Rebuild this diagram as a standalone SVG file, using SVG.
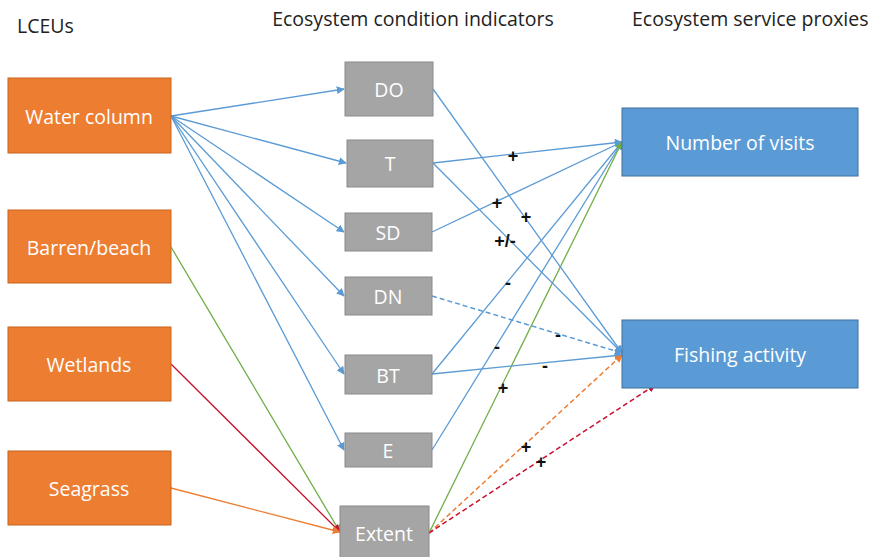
<svg xmlns="http://www.w3.org/2000/svg" width="871" height="557" viewBox="0 0 871 557">
  <defs>
    <marker id="ah-blue" viewBox="0 0 10 10" refX="9" refY="5" markerWidth="8" markerHeight="8" markerUnits="userSpaceOnUse" orient="auto">
      <path d="M0,0 L10,5 L0,10 z" fill="#5B9BD5"/>
    </marker>
    <marker id="ah-green" viewBox="0 0 10 10" refX="9" refY="5" markerWidth="8" markerHeight="8" markerUnits="userSpaceOnUse" orient="auto">
      <path d="M0,0 L10,5 L0,10 z" fill="#70AD47"/>
    </marker>
    <marker id="ah-orange" viewBox="0 0 10 10" refX="9" refY="5" markerWidth="8" markerHeight="8" markerUnits="userSpaceOnUse" orient="auto">
      <path d="M0,0 L10,5 L0,10 z" fill="#ED7D31"/>
    </marker>
    <marker id="ah-red" viewBox="0 0 10 10" refX="9" refY="5" markerWidth="8" markerHeight="8" markerUnits="userSpaceOnUse" orient="auto">
      <path d="M0,0 L10,5 L0,10 z" fill="#C8102E"/>
    </marker>
  </defs>
  <style>
    text { font-family: "Open Sans", "Liberation Sans", sans-serif; }
    .hdr { font-size: 19.5px; fill: #222; }
    .lbl { font-size: 19.5px; fill: #FFFFFF; text-anchor: middle; dominant-baseline: central; }
    .lceu rect { fill: #ED7D31; stroke: #C8651E; stroke-width: 1; }
    .ind rect { fill: #A5A5A5; stroke: #8A8A8A; stroke-width: 1; }
    .esp rect { fill: #5B9BD5; stroke: #41719C; stroke-width: 1; }
    .e { fill: none; stroke-width: 1.3; }
    .blue { stroke: #5B9BD5; marker-end: url(#ah-blue); }
    .green { stroke: #70AD47; marker-end: url(#ah-green); }
    .orange { stroke: #ED7D31; marker-end: url(#ah-orange); }
    .red { stroke: #C8102E; marker-end: url(#ah-red); }
    .dash { stroke-dasharray: 5 3; stroke-width: 1.5; }
    .sign { font-family: "Liberation Sans", sans-serif; font-size: 18px; fill: #111; text-anchor: middle; dominant-baseline: central; font-weight: bold; }
  </style>

  <rect width="871" height="557" fill="#FFFFFF"/>

  <!-- column headings -->
  <text class="hdr" x="17" y="33">LCEUs</text>
  <text class="hdr" x="413" y="26" text-anchor="middle">Ecosystem condition indicators</text>
  <text class="hdr" x="632" y="26">Ecosystem service proxies</text>

  <!-- connectors -->
  <g id="connectors">
    <!-- water column to indicators -->
    <line class="e blue" x1="171" y1="116" x2="344" y2="89"/>
    <line class="e blue" x1="171" y1="116" x2="346" y2="163"/>
    <line class="e blue" x1="171" y1="116" x2="344" y2="232"/>
    <line class="e blue" x1="171" y1="116" x2="344" y2="296"/>
    <line class="e blue" x1="171" y1="116" x2="344" y2="374"/>
    <line class="e blue" x1="171" y1="116" x2="344" y2="450"/>
    <!-- other LCEUs to extent -->
    <line class="e green" x1="171" y1="247" x2="340" y2="532"/>
    <line class="e red" x1="171" y1="364" x2="340" y2="532"/>
    <line class="e orange" x1="171" y1="488" x2="340" y2="532"/>
    <!-- indicators to number of visits -->
    <line class="e blue" x1="433" y1="163" x2="622" y2="142"/>
    <line class="e blue" x1="432" y1="232" x2="622" y2="142"/>
    <line class="e blue" x1="432" y1="374" x2="622" y2="142"/>
    <line class="e blue" x1="432" y1="450" x2="622" y2="142"/>
    <line class="e green" x1="429" y1="533" x2="622" y2="142"/>
    <!-- indicators to fishing activity -->
    <line class="e blue" x1="433" y1="89" x2="622" y2="353"/>
    <line class="e blue" x1="433" y1="163" x2="622" y2="353"/>
    <line class="e blue dash" x1="432" y1="296" x2="622" y2="353"/>
    <line class="e blue" x1="432" y1="374" x2="622" y2="355"/>
    <line class="e orange dash" x1="429" y1="533" x2="622" y2="355"/>
    <line class="e red dash" x1="429" y1="533" x2="655" y2="385"/>
  </g>

  <!-- relationship signs -->
  <g id="signs">
    <text class="sign" x="513" y="156">+</text>
    <text class="sign" x="497" y="203">+</text>
    <text class="sign" x="526" y="217">+</text>
    <text class="sign" x="505" y="241">+/-</text>
    <text class="sign" x="508" y="283">-</text>
    <text class="sign" x="558" y="335">-</text>
    <text class="sign" x="497" y="347">-</text>
    <text class="sign" x="545" y="366">-</text>
    <text class="sign" x="503" y="388">+</text>
    <text class="sign" x="526" y="447">+</text>
    <text class="sign" x="541" y="462">+</text>
  </g>

  <!-- land cover ecosystem units -->
  <g id="water-column" class="lceu"><rect x="8" y="78" width="163" height="75"/><text class="lbl" x="89" y="116">Water column</text></g>
  <g id="barren-beach" class="lceu"><rect x="8" y="210" width="163" height="73"/><text class="lbl" x="89" y="247">Barren/beach</text></g>
  <g id="wetlands" class="lceu"><rect x="8" y="327" width="163" height="74"/><text class="lbl" x="89" y="364">Wetlands</text></g>
  <g id="seagrass" class="lceu"><rect x="8" y="451" width="163" height="74"/><text class="lbl" x="89" y="488">Seagrass</text></g>

  <!-- condition indicators -->
  <g id="do" class="ind"><rect x="345" y="62" width="88" height="54"/><text class="lbl" x="389" y="89">DO</text></g>
  <g id="t" class="ind"><rect x="347" y="140" width="86" height="47"/><text class="lbl" x="390" y="163">T</text></g>
  <g id="sd" class="ind"><rect x="345" y="213" width="87" height="38"/><text class="lbl" x="388" y="232">SD</text></g>
  <g id="dn" class="ind"><rect x="345" y="277" width="87" height="38"/><text class="lbl" x="388" y="296">DN</text></g>
  <g id="bt" class="ind"><rect x="345" y="355" width="87" height="39"/><text class="lbl" x="388" y="375">BT</text></g>
  <g id="e" class="ind"><rect x="345" y="433" width="87" height="34"/><text class="lbl" x="388" y="450">E</text></g>
  <g id="extent" class="ind"><rect x="340" y="506" width="89" height="54"/><text class="lbl" x="384" y="533">Extent</text></g>

  <!-- service proxies -->
  <g id="number-of-visits" class="esp"><rect x="622" y="108" width="236" height="68"/><text class="lbl" x="740" y="142">Number of visits</text></g>
  <g id="fishing-activity" class="esp"><rect x="622" y="320" width="236" height="68"/><text class="lbl" x="740" y="354">Fishing activity</text></g>
</svg>
